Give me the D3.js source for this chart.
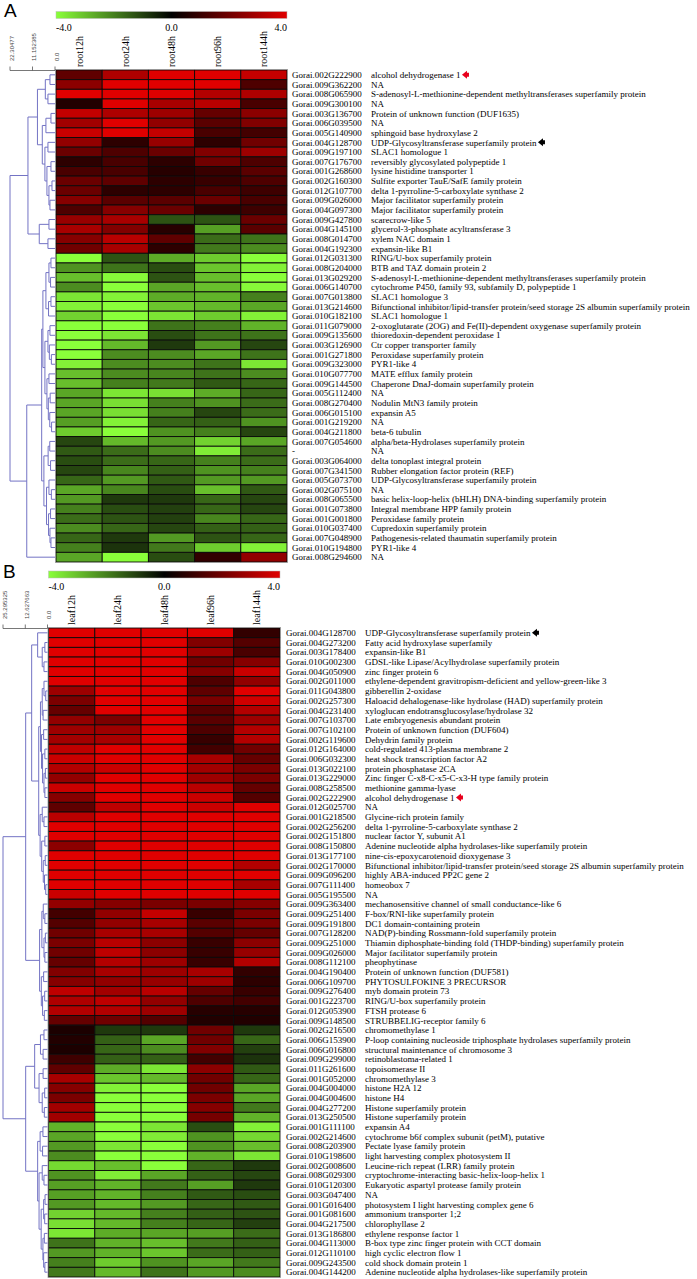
<!DOCTYPE html>
<html>
<head>
<meta charset="utf-8">
<script src="https://cdn.jsdelivr.net/npm/d3@7"></script>
<style>
  body { margin: 0; background: #fff; }
  svg { display: block; }
  text { font-family: "Liberation Serif", "Times New Roman", serif; fill: #000; }
</style>
</head>
<body>
<svg id="chart"></svg>
<script>
// ---- panel A (root) ----
const colsA = ["root12h", "root24h", "root48h", "root96h", "root144h"];
const genesA = [
  "Gorai.002G222900", "Gorai.009G362200", "Gorai.008G065900", "Gorai.009G300100", "Gorai.003G136700",
  "Gorai.006G039500", "Gorai.005G140900", "Gorai.004G128700", "Gorai.009G197100", "Gorai.007G176700",
  "Gorai.001G268600", "Gorai.002G160300", "Gorai.012G107700", "Gorai.009G026000", "Gorai.004G097300",
  "Gorai.009G427800", "Gorai.004G145100", "Gorai.008G014700", "Gorai.004G192300", "Gorai.012G031300",
  "Gorai.008G204000", "Gorai.013G029200", "Gorai.006G140700", "Gorai.007G013800", "Gorai.013G214600",
  "Gorai.010G182100", "Gorai.011G079000", "Gorai.009G135600", "Gorai.003G126900", "Gorai.001G271800",
  "Gorai.009G323000", "Gorai.010G077700", "Gorai.009G144500", "Gorai.005G112400", "Gorai.008G270400",
  "Gorai.006G015100", "Gorai.001G219200", "Gorai.004G211800", "Gorai.007G054600", "-",
  "Gorai.003G064000", "Gorai.007G341500", "Gorai.005G073700", "Gorai.002G075100", "Gorai.008G065500",
  "Gorai.001G073800", "Gorai.001G001800", "Gorai.010G037400", "Gorai.007G048900", "Gorai.010G194800",
  "Gorai.008G294600"
];
const descA = [
  "alcohol dehydrogenase 1", "NA", "S-adenosyl-L-methionine-dependent methyltransferases superfamily protein", "NA",
  "Protein of unknown function (DUF1635)", "NA", "sphingoid base hydroxylase 2", "UDP-Glycosyltransferase superfamily protein",
  "SLAC1 homologue 1", "reversibly glycosylated polypeptide 1", "lysine histidine transporter 1",
  "Sulfite exporter TauE/SafE family protein", "delta 1-pyrroline-5-carboxylate synthase 2",
  "Major facilitator superfamily protein", "Major facilitator superfamily protein", "scarecrow-like 5",
  "glycerol-3-phosphate acyltransferase 3", "xylem NAC domain 1", "expansin-like B1", "RING/U-box superfamily protein",
  "BTB and TAZ domain protein 2", "S-adenosyl-L-methionine-dependent methyltransferases superfamily protein",
  "cytochrome P450, family 93, subfamily D, polypeptide 1", "SLAC1 homologue 3",
  "Bifunctional inhibitor/lipid-transfer protein/seed storage 2S albumin superfamily protein", "SLAC1 homologue 1",
  "2-oxoglutarate (2OG) and Fe(II)-dependent oxygenase superfamily protein", "thioredoxin-dependent peroxidase 1",
  "Ctr copper transporter family", "Peroxidase superfamily protein", "PYR1-like 4", "MATE efflux family protein",
  "Chaperone DnaJ-domain superfamily protein", "NA", "Nodulin MtN3 family protein", "expansin A5", "NA",
  "beta-6 tubulin", "alpha/beta-Hydrolases superfamily protein", "NA", "delta tonoplast integral protein",
  "Rubber elongation factor protein (REF)", "UDP-Glycosyltransferase superfamily protein", "NA",
  "basic helix-loop-helix (bHLH) DNA-binding superfamily protein", "Integral membrane HPP family protein",
  "Peroxidase family protein", "Cupredoxin superfamily protein", "Pathogenesis-related thaumatin superfamily protein",
  "PYR1-like 4", "NA"
];
const valuesA = [
  [1.7, 3.1, 4, 4, 3.5], [2.5, 4, 4, 4, 1.4], [4, 4, 4, 3.2, 3.1], [0.6, 4, 3.0, 3.3, 1.3],
  [3.5, 3.1, 2.8, 1.8, 2.5], [2.9, 4, 2.6, 1.6, 2.3], [3.6, 4, 3.5, 1.3, 1.2], [2.6, 0.8, 2.7, 0.8, 2.0],
  [1.9, 1.4, 1.9, 2.3, 2.8], [0.8, 1.3, 0.8, 2.0, 1.4], [1.3, 1.3, 0.7, 1.0, 1.6], [1.9, 1.7, 0.8, 1.0, 1.4],
  [1.9, 0.8, 0.8, 1.3, 1.1], [2.4, 1.6, 1.6, 1.9, 1.3], [1.4, 2.4, 1.9, 0.8, 1.1], [2.7, 3.0, -1.3, -1.3, 1.9],
  [3.0, 2.3, 0.7, -2.5, 1.6], [2.4, 3.3, 1.7, -1.7, -1.8], [2.0, 3.0, 0.8, -1.9, -2.2],
  [-4, -1.3, -2.7, -3.2, -4], [-2.3, -1.8, -1.2, -3.1, -3.8], [-3.0, -3.9, -1.3, -3.0, -4],
  [-2.2, -4, -2.6, -3.0, -3.9], [-3.6, -3.8, -2.7, -2.8, -2.0], [-3.8, -4, -3.1, -2.9, -2.6],
  [-3.3, -4, -3.6, -3.2, -3.8], [-4, -4, -1.8, -2.0, -2.8], [-4, -3.6, -1.2, -1.8, -1.8],
  [-4, -2.9, -0.9, -2.4, -1.1], [-4, -2.2, -2.2, -2.6, -1.8], [-3.8, -2.2, -2.2, -1.8, -3.6],
  [-3.0, -2.2, -2.1, -1.8, -2.2], [-3.0, -2.0, -1.9, -1.4, -1.6], [-2.6, -3.6, -3.5, -2.7, -1.6],
  [-2.6, -3.5, -2.0, -2.3, -1.7], [-2.6, -3.5, -2.0, -1.1, -1.7], [-2.5, -3.8, -1.6, -1.5, -2.3],
  [-3.2, -4, -2.3, -2.0, -1.1], [-1.1, -2.9, -2.4, -3.3, -2.6], [-1.4, -1.7, -2.2, -3.7, -1.7],
  [-1.2, -1.7, -1.6, -2.0, -1.7], [-1.1, -2.1, -1.5, -2.3, -2.0], [-1.6, -2.4, -1.4, -2.4, -2.4],
  [-2.6, -2.1, -1.2, -3.0, -1.4], [-2.4, -0.9, -0.9, -1.6, -1.1], [-2.0, -1.2, -1.0, -1.6, -1.1],
  [-1.7, -1.3, -1.0, -2.1, -1.6], [-2.2, -1.6, -1.1, -1.5, -1.5], [-1.6, -0.9, -2.4, -1.3, -1.6],
  [-2.0, -0.8, -1.9, -3.2, -3.8], [-2.6, -4, -1.2, 0.9, 2.6]
];
// dendrogram: [height, left, right], leaves are row indices
const treeA = [22.30477,
  [13.4,
    [8.7,
      [4.8, [2.5, 0, 1], [3.5, 2, 3]],
      [6.3, [4.5, [2.0, 4, 5], 6], [5, [3.5, 7, 8], [4, [2, 9, 10], [3, [1.5, 11, 12], [2.5, 13, 14]]]]]],
    [7.8, [3, 15, 16], [3.5, 17, 18]]],
  [14,
    [6.6,
      [6.0,
        [4.5, [3, [2, 19, 20], [2.2, 21, 22]], [3.2, [2, 23, 24], 25]],
        [5, [3.5, [2.5, 26, 27], [2.8, 28, [1.8, 29, 30]]], [4, [3, 31, 32], [3.3, [2.4, 33, 34], [2.6, 35, [1.7, 36, 37]]]]]],
      [5.5, [3.4, [2.6, 38, 39], [2.2, 40, 41]], [4.2, [3, 42, [1.8, 43, 44]], [3.2, [2.2, 45, 46], [2.5, 47, [2.0, 48, 49]]]]]],
    50]];
const scaleTicksA = [22.30477, 11.152385, 0];

// ---- panel B (leaf) ----
const colsB = ["leaf12h", "leaf24h", "leaf48h", "leaf96h", "leaf144h"];
const genesB = [
  "Gorai.004G128700", "Gorai.004G273200", "Gorai.003G178400", "Gorai.010G002300", "Gorai.004G050900",
  "Gorai.002G011000", "Gorai.011G043800", "Gorai.002G257300", "Gorai.004G231400", "Gorai.007G103700",
  "Gorai.007G102100", "Gorai.002G119600", "Gorai.012G164000", "Gorai.006G032300", "Gorai.013G022100",
  "Gorai.013G229000", "Gorai.008G258500", "Gorai.002G222900", "Gorai.012G025700", "Gorai.001G218500",
  "Gorai.002G256200", "Gorai.002G151800", "Gorai.008G150800", "Gorai.013G177100", "Gorai.002G170000",
  "Gorai.009G096200", "Gorai.007G111400", "Gorai.005G195500", "Gorai.009G363400", "Gorai.009G251400",
  "Gorai.009G191800", "Gorai.007G128200", "Gorai.009G251000", "Gorai.009G026000", "Gorai.008G112100",
  "Gorai.004G190400", "Gorai.006G109700", "Gorai.009G276400", "Gorai.001G223700", "Gorai.012G053900",
  "Gorai.009G148500", "Gorai.002G216500", "Gorai.006G153900", "Gorai.006G016800", "Gorai.009G299000",
  "Gorai.011G261600", "Gorai.001G052000", "Gorai.004G004000", "Gorai.004G004600", "Gorai.004G277200",
  "Gorai.013G250500", "Gorai.001G111100", "Gorai.002G214600", "Gorai.008G203900", "Gorai.010G198600",
  "Gorai.002G008600", "Gorai.008G029300", "Gorai.010G120300", "Gorai.003G047400", "Gorai.001G016400",
  "Gorai.001G081600", "Gorai.004G217500", "Gorai.013G186800", "Gorai.004G113000", "Gorai.012G110100",
  "Gorai.009G243500", "Gorai.004G144200"
];
const descB = [
  "UDP-Glycosyltransferase superfamily protein", "Fatty acid hydroxylase superfamily", "expansin-like B1",
  "GDSL-like Lipase/Acylhydrolase superfamily protein", "zinc finger protein 6",
  "ethylene-dependent gravitropism-deficient and yellow-green-like 3", "gibberellin 2-oxidase",
  "Haloacid dehalogenase-like hydrolase (HAD) superfamily protein", "xyloglucan endotransglucosylase/hydrolase 32",
  "Late embryogenesis abundant protein", "Protein of unknown function (DUF604)", "Dehydrin family protein",
  "cold-regulated 413-plasma membrane 2", "heat shock transcription factor A2", "protein phosphatase 2CA",
  "Zinc finger C-x8-C-x5-C-x3-H type family protein", "methionine gamma-lyase", "alcohol dehydrogenase 1", "NA",
  "Glycine-rich protein family", "delta 1-pyrroline-5-carboxylate synthase 2", "nuclear factor Y, subunit A1",
  "Adenine nucleotide alpha hydrolases-like superfamily protein", "nine-cis-epoxycarotenoid dioxygenase 3",
  "Bifunctional inhibitor/lipid-transfer protein/seed storage 2S albumin superfamily protein",
  "highly ABA-induced PP2C gene 2", "homeobox 7", "NA", "mechanosensitive channel of small conductance-like 6",
  "F-box/RNI-like superfamily protein", "DC1 domain-containing protein", "NAD(P)-binding Rossmann-fold superfamily protein",
  "Thiamin diphosphate-binding fold (THDP-binding) superfamily protein", "Major facilitator superfamily protein",
  "pheophytinase", "Protein of unknown function (DUF581)", "PHYTOSULFOKINE 3 PRECURSOR", "myb domain protein 73",
  "RING/U-box superfamily protein", "FTSH protease 6", "STRUBBELIG-receptor family 6", "chromomethylase 1",
  "P-loop containing nucleoside triphosphate hydrolases superfamily protein", "structural maintenance of chromosome 3",
  "retinoblastoma-related 1", "topoisomerase II", "chromomethylase 3", "histone H2A 12", "histone H4",
  "Histone superfamily protein", "Histone superfamily protein", "expansin A4",
  "cytochrome b6f complex subunit (petM), putative", "Pectate lyase family protein",
  "light harvesting complex photosystem II", "Leucine-rich repeat (LRR) family protein",
  "cryptochrome-interacting basic-helix-loop-helix 1", "Eukaryotic aspartyl protease family protein", "NA",
  "photosystem I light harvesting complex gene 6", "ammonium transporter 1;2", "chlorophyllase 2",
  "ethylene response factor 1", "B-box type zinc finger protein with CCT domain", "high cyclic electron flow 1",
  "cold shock domain protein 1", "Adenine nucleotide alpha hydrolases-like superfamily protein"
];
const valuesB = [
  [4, 4, 4, 4, 0.9], [4, 4, 4, 2.3, 1.5], [4, 4, 4, 2.8, 1.3], [4, 4, 4, 2.0, 2.4], [4, 4, 4, 2.4, 3.6],
  [4, 4, 4, 1.4, 2.6], [2.8, 4, 4, 1.7, 4], [2.2, 4, 4, 2.2, 3.7], [1.8, 4, 4, 1.6, 3.2], [2.6, 2.2, 4, 1.6, 2.8],
  [2.8, 2.8, 4, 1.4, 3.2], [2.9, 3.0, 4, 1.0, 3.2], [3.4, 4, 4, 1.2, 2.0], [3.6, 4, 4, 3.0, 1.8],
  [3.2, 3.6, 4, 2.9, 2.2], [2.6, 4, 4, 2.8, 2.2], [3.6, 4, 4, 3.3, 1.8], [2.4, 4, 4, 3.6, 1.5],
  [1.7, 3.4, 4, 3.6, 4], [3.3, 4, 4, 4, 4], [4, 4, 4, 4, 4], [4, 4, 4, 4, 4], [2.5, 4, 4, 4, 4],
  [4, 4, 4, 4, 4], [4, 4, 4, 4, 3.2], [4, 4, 4, 4, 4], [4, 4, 4, 4, 3.0], [3.6, 4, 4, 4, 4],
  [2.6, 2.4, 2.2, 2.2, 2.4], [1.2, 2.6, 3.5, 1.0, 2.2], [1.5, 2.6, 3.0, 1.6, 2.2], [2.0, 3.0, 3.0, 1.5, 1.8],
  [2.2, 3.3, 2.5, 1.0, 2.5], [2.0, 3.4, 2.5, 1.0, 2.7], [1.8, 3.2, 2.8, 1.0, 3.2], [2.3, 3.0, 2.8, 3.0, 0.9],
  [2.4, 2.6, 2.7, 2.8, 0.8], [3.4, 2.9, 3.3, 1.8, 1.0], [3.1, 3.4, 2.6, 1.4, 1.2], [3.2, 3.2, 2.8, 0.7, 0.7],
  [1.8, 2.0, 1.5, 0.6, 0.6], [0.5, -0.9, -0.9, 2.0, -0.9], [0.6, -1.5, -2.6, 2.0, -1.6], [0.5, -1.6, -2.2, 2.3, -1.0],
  [1.1, -1.5, -1.5, 1.2, -0.8], [1.7, -2.7, -3.6, 2.5, -1.4], [3.0, -3.1, -2.9, 2.0, -1.6], [2.4, -3.8, -4, 2.0, -2.6],
  [2.2, -4, -4, 2.2, -2.6], [2.9, -4, -4, 2.4, -1.9], [2.9, -4, -4, 2.1, -2.8],
  [-2.8, -4, -3.6, -1.2, -3.8], [-2.6, -4, -3.7, -2.3, -3.4], [-2.4, -3.6, -4, -2.3, -3.0], [-2.2, -4, -4, -2.8, -3.6],
  [-3.4, -3.0, -4, -1.6, -0.9], [-2.3, -3.7, -2.6, -1.5, -1.1], [-2.5, -2.8, -1.9, -2.5, -0.9],
  [-2.5, -2.8, -2.0, -1.4, -1.2], [-2.4, -2.9, -2.4, -1.6, -1.4], [-3.3, -2.9, -2.0, -1.5, -1.3],
  [-3.5, -2.9, -2.0, -1.6, -1.0], [-3.6, -2.7, -2.6, -2.5, -1.7], [-1.8, -2.8, -3.0, -1.9, -1.5],
  [-2.4, -2.8, -3.1, -1.7, -1.5], [-2.0, -3.2, -2.3, -2.6, -1.9], [-1.9, -2.9, -1.8, -2.4, -2.2]
];
const treeB = [25.295325,
  [12.4,
    [9,
      [5.6, 0, [3, [1.5, 1, 2], [2, 3, 4]]],
      [5.0,
        [4, [3, [2, 5, [1, 6, 7]], [2.5, 8, 9]], [3.4, [2.2, 10, 11], [2.8, [1.5, 12, 13], [2, [1.2, 14, 15], [1.5, 16, 17]]]]],
        [4.2, [3, 18, [2, 19, 20]], [3.3, [1.5, 21, 22], [2.4, [1.3, 23, 24], [1.7, 25, [1.0, 26, 27]]]]]]],
    [4.5, [3.2, [2.4, 28, [1.5, 29, 30]], [2.0, [1.2, 31, 32], [1.5, 33, 34]]], [3.5, [2.2, 35, 36], [2.8, [1.6, 37, 38], [1.8, 39, 40]]]]],
  [12.4,
    [7.3, [4, [2, 41, 42], [2.5, 43, 44]], [4.8, [2.5, 45, 46], [3, [1.6, 47, 48], [1.8, 49, 50]]]],
    [5.6, [4.2, [2.6, 51, 52], [2.8, 53, 54]],
      [4.8, [3, 55, [2, 56, 57]], [3.6, [2.2, [1.4, 58, 59], [1.6, 60, 61]], [2.6, [1.8, 62, 63], [2.2, 64, [1.5, 65, 66]]]]]]]];
const scaleTicksB = [25.295325, 12.627663, 0];

const legendTicks = [-4, 0, 4];
const marksA = [{ row: 0, colour: "#e8001c" }, { row: 7, colour: "#000" }];
const marksB = [{ row: 17, colour: "#e8001c" }, { row: 0, colour: "#000" }];

const W = 697, H = 1279;
const svg = d3.select("#chart").attr("width", W).attr("height", H);

const colour = d3.scaleLinear()
  .domain([-4, 0, 4])
  .range(["#8aff3a", "#000000", "#e00000"])
  .clamp(true);

const grad = svg.append("defs").append("linearGradient").attr("id", "lg");
grad.selectAll("stop")
  .data(d3.range(-4, 4.01, 0.5))
  .enter()
  .append("stop")
  .attr("offset", d => (d + 4) / 8)
  .attr("stop-color", d => colour(d));

function panel(o) {
  const g = svg.append("g");
  const x = d3.scaleBand().domain(o.cols).range([o.x0, o.x1]);
  const y = d3.scaleBand().domain(d3.range(o.genes.length)).range([o.y0, o.y1]);

  // panel letter
  g.append("text")
    .attr("x", o.letterX)
    .attr("y", o.letterY)
    .style("font-family", "Liberation Sans, Arial, sans-serif")
    .style("font-size", "19px")
    .text(o.letter);

  // colour key
  const lx = d3.scaleLinear().domain([-4, 4]).range([o.x0, o.x1]);
  g.append("rect")
    .attr("x", o.x0)
    .attr("y", o.legendY)
    .attr("width", o.x1 - o.x0)
    .attr("height", 7)
    .attr("fill", "url(#lg)")
    .attr("stroke", "#bbb")
    .attr("stroke-width", 0.5);
  g.selectAll(".lt")
    .data(legendTicks)
    .enter()
    .append("text")
    .attr("x", d => lx(d))
    .attr("y", o.legendY + 19)
    .style("font-size", "10px")
    .style("text-anchor", d => (d < 0 ? "start" : d > 0 ? "end" : "middle"))
    .text(d => d.toFixed(1));

  // column labels
  g.selectAll(".col")
    .data(o.cols)
    .enter()
    .append("text")
    .attr("transform", d => `translate(${x(d) + x.bandwidth() / 2 + 3.5}, ${o.y0 - 3}) rotate(-90)`)
    .style("font-size", "10px")
    .style("text-anchor", "start")
    .text(d => d);

  // cells
  const cells = [];
  o.values.forEach((row, i) => row.forEach((v, j) => cells.push({ i, c: o.cols[j], v })));
  g.selectAll(".cell")
    .data(cells)
    .enter()
    .append("rect")
    .attr("x", d => x(d.c))
    .attr("y", d => y(d.i))
    .attr("width", x.bandwidth())
    .attr("height", y.bandwidth())
    .attr("fill", d => colour(d.v))
    .attr("stroke", "#0a0a0a")
    .attr("stroke-width", 0.9);
  g.append("rect")
    .attr("x", o.x0 - 0.5)
    .attr("y", o.y0 - 0.5)
    .attr("width", o.x1 - o.x0 + 1)
    .attr("height", o.y1 - o.y0 + 1)
    .attr("fill", "none")
    .attr("stroke", "#999")
    .attr("stroke-width", 0.8);

  // dendrogram
  const dx = d3.scaleLinear().domain([0, o.tree[0]]).range([o.x0 - 1, o.rootX]);
  const segs = [];
  function walk(node) {
    if (typeof node === "number") return { y: y(node) + y.bandwidth() / 2, h: 0 };
    const l = walk(node[1]), r = walk(node[2]);
    const xh = dx(node[0]);
    segs.push([xh, l.y, xh, r.y], [xh, l.y, dx(l.h), l.y], [xh, r.y, dx(r.h), r.y]);
    return { y: (l.y + r.y) / 2, h: node[0] };
  }
  walk(o.tree);
  g.selectAll(".seg")
    .data(segs)
    .enter()
    .append("line")
    .attr("x1", d => d[0]).attr("y1", d => d[1])
    .attr("x2", d => d[2]).attr("y2", d => d[3])
    .attr("stroke", "#7373c4")
    .attr("stroke-width", 1);

  // distance scale bracket
  const by = o.y0 + 0.5;
  g.append("line")
    .attr("x1", dx(o.scaleTicks[0])).attr("x2", dx(0))
    .attr("y1", by).attr("y2", by)
    .attr("stroke", "#555").attr("stroke-width", 0.8);
  g.selectAll(".stk")
    .data(o.scaleTicks)
    .enter()
    .append("line")
    .attr("x1", d => dx(d)).attr("x2", d => dx(d))
    .attr("y1", by - 4).attr("y2", by)
    .attr("stroke", "#555").attr("stroke-width", 0.8);
  g.selectAll(".stl")
    .data(o.scaleTicks)
    .enter()
    .append("text")
    .attr("transform", d => `translate(${dx(d) + 3.5}, ${o.y0 - 9}) rotate(-90)`)
    .style("font-family", "Liberation Sans, Arial, sans-serif")
    .style("font-size", "6px")
    .style("fill", "#444")
    .text(d => (d === 0 ? "0.0" : String(d)));

  // row labels
  const rows = g.selectAll(".row")
    .data(o.genes)
    .enter()
    .append("g")
    .attr("transform", (d, i) => `translate(0, ${y(i) + y.bandwidth() / 2 + 3.2})`);
  rows.append("text")
    .attr("x", o.labelX)
    .style("font-size", "9px")
    .text(d => d);
  rows.append("text")
    .attr("class", "desc")
    .attr("x", o.labelX + 79)
    .style("font-size", "9px")
    .text((d, i) => o.desc[i]);

  // arrow marks
  o.marks.forEach(m => {
    const t = rows.filter((d, i) => i === m.row).select(".desc").node();
    const ax = o.labelX + 79 + t.getComputedTextLength() + 1.5;
    const ay = y(m.row) + y.bandwidth() / 2;
    g.append("path")
      .attr("d", `M${ax},${ay} L${ax + 5},${ay - 4} L${ax + 5},${ay + 4} Z M${ax + 5},${ay - 2} h2 v4 h-2 Z`)
      .attr("fill", m.colour);
  });
}

panel({
  letter: "A", letterX: 4, letterY: 17,
  cols: colsA, genes: genesA, desc: descA, values: valuesA, tree: treeA, scaleTicks: scaleTicksA,
  x0: 56, x1: 287, y0: 70, y1: 562, rootX: 10, legendY: 11.5, labelX: 292, marks: marksA
});

panel({
  letter: "B", letterX: 3, letterY: 578,
  cols: colsB, genes: genesB, desc: descB, values: valuesB, tree: treeB, scaleTicks: scaleTicksB,
  x0: 48.5, x1: 280, y0: 628, y1: 1277, rootX: 3, legendY: 571, labelX: 286, marks: marksB
});
</script>
</body>
</html>
